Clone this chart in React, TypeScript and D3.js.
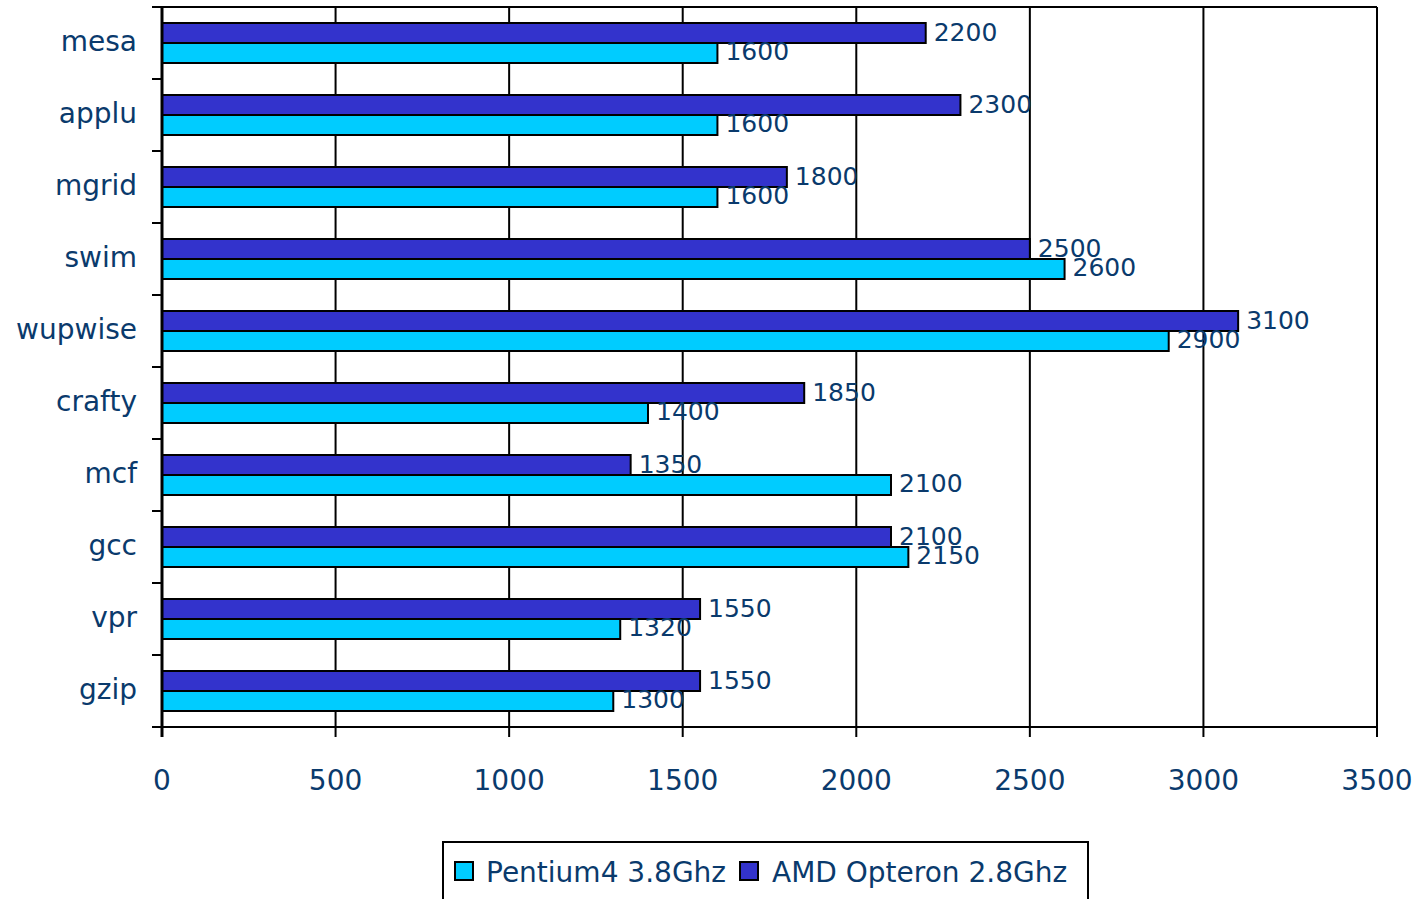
import React from "react";
import * as d3 from "d3";

const categories = ["mesa", "applu", "mgrid", "swim", "wupwise", "crafty", "mcf", "gcc", "vpr", "gzip"];
const pentium = [1600, 1600, 1600, 2600, 2900, 1400, 2100, 2150, 1320, 1300];
const opteron = [2200, 2300, 1800, 2500, 3100, 1850, 1350, 2100, 1550, 1550];
const xTicks = [0, 500, 1000, 1500, 2000, 2500, 3000, 3500];
const seriesNames = ["Pentium4 3.8Ghz", "AMD Opteron 2.8Ghz"];

const W = 1417, H = 899;
const left = 162, right = 1377, top = 7, bottom = 727;
const FONT = "'DejaVu Sans', sans-serif";
const TEXT = "#0a3a6c";
const CYAN = "#00CCFF";
const BLUE = "#3333CC";

export default function App() {
  const x = d3.scaleLinear().domain([0, 3500]).range([left, right]);
  const y = d3.scaleBand().domain(categories).range([top, bottom]);
  const bw = y.bandwidth();
  const barH = 20;
  return (
    <svg width={W} height={H} style={{ position: "absolute", left: 0, top: 0, background: "#fff" }} fontFamily={FONT}>
      {xTicks.map((t) => (
        <line key={"g" + t} x1={x(t)} x2={x(t)} y1={top} y2={bottom + 10} stroke="#000" strokeWidth={2} />
      ))}
      <line x1={152} x2={right} y1={top} y2={top} stroke="#000" strokeWidth={2} />
      <line x1={left} x2={right} y1={bottom} y2={bottom} stroke="#000" strokeWidth={2} />
      {categories.map((c, i) => (
        <line key={"t" + c} x1={152} x2={left} y1={(y(c) as number) + bw} y2={(y(c) as number) + bw} stroke="#000" strokeWidth={2} />
      ))}
      {categories.map((c, i) => {
        const cy = (y(c) as number) + bw / 2;
        return (
          <g key={c}>
            <rect x={x(0)} y={cy - barH} width={x(opteron[i]) - x(0)} height={barH} fill={BLUE} stroke="#000" strokeWidth={2} />
            <rect x={x(0)} y={cy} width={x(pentium[i]) - x(0)} height={barH} fill={CYAN} stroke="#000" strokeWidth={2} />
            <text x={x(opteron[i]) + 8} y={cy - barH / 2 - 1} dy="0.35em" fontSize={25} fill={TEXT}>{opteron[i]}</text>
            <text x={x(pentium[i]) + 8} y={cy + barH / 2 - 2} dy="0.35em" fontSize={25} fill={TEXT}>{pentium[i]}</text>
            <text x={137} y={cy} dy="0.3em" fontSize={28} textAnchor="end" fill={TEXT}>{c}</text>
          </g>
        );
      })}
      <line x1={left} x2={left} y1={top} y2={bottom + 10} stroke="#000" strokeWidth={3} />
      {xTicks.map((t) => (
        <text key={"l" + t} x={x(t)} y={780} dy="0.35em" fontSize={28} textAnchor="middle" fill={TEXT}>{t}</text>
      ))}
      <rect x={443} y={842} width={645} height={80} fill="#fff" stroke="#000" strokeWidth={2} />
      <rect x={455} y={862} width={18} height={18} fill={CYAN} stroke="#000" strokeWidth={2} />
      <text x={486} y={872} dy="0.35em" fontSize={28} fill={TEXT}>{seriesNames[0]}</text>
      <rect x={740} y={862} width={18} height={18} fill={BLUE} stroke="#000" strokeWidth={2} />
      <text x={772} y={872} dy="0.35em" fontSize={28} fill={TEXT}>{seriesNames[1]}</text>
    </svg>
  );
}
